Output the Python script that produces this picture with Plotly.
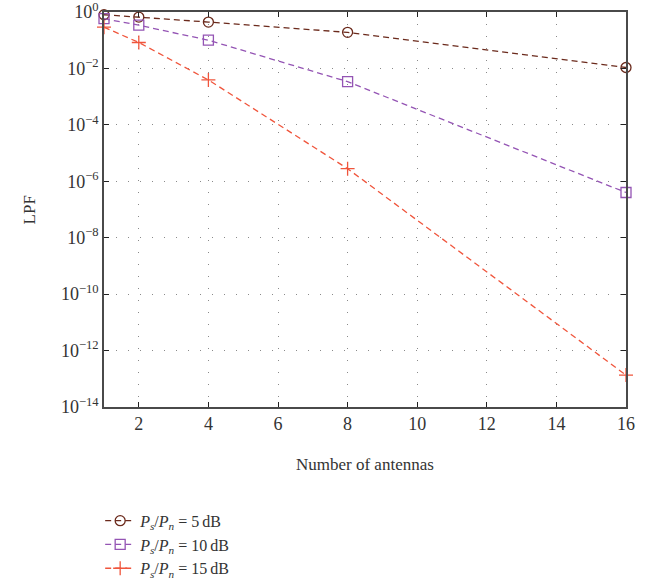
import plotly.graph_objects as go

# Number of antennas
antennas = [1, 2, 4, 8, 16]

# LPF values for each Ps/Pn setting
lpf_5db = [0.80, 0.66, 0.44, 0.19, 0.0108]
lpf_10db = [0.58, 0.34, 0.10, 0.0034, 4.0e-7]
lpf_15db = [0.29, 0.083, 0.0039, 2.8e-6, 1.35e-13]

series_names = [
    "<i>P<sub>s</sub></i>/<i>P<sub>n</sub></i> = 5\u2009dB",
    "<i>P<sub>s</sub></i>/<i>P<sub>n</sub></i> = 10\u2009dB",
    "<i>P<sub>s</sub></i>/<i>P<sub>n</sub></i> = 15\u2009dB",
]
series_colors = ["#6b2a1c", "#9454b4", "#f0553c"]
series_symbols = ["circle-open", "square-open", "cross-thin-open"]
series_values = [lpf_5db, lpf_10db, lpf_15db]

y_exponents = [0, -2, -4, -6, -8, -10, -12, -14]
y_tickvals = [10.0 ** e for e in y_exponents]
y_ticktext = ["10<sup>%s</sup>" % (str(e).replace("-", "\u2212")) for e in y_exponents]
x_tickvals = [2, 4, 6, 8, 10, 12, 14, 16]

x_title = "Number of antennas"
y_title = "LPF"

font_family = "Liberation Serif, DejaVu Serif, serif"
text_color = "#333333"

fig = go.Figure()
for name, vals, color, symbol in zip(series_names, series_values, series_colors, series_symbols):
    fig.add_trace(go.Scatter(
        x=antennas,
        y=vals,
        mode="lines+markers",
        name=name,
        line=dict(color=color, width=1.3, dash="6px,4px"),
        marker=dict(symbol=symbol, size=10, color=color, line=dict(color=color, width=1.3)),
        cliponaxis=False,
    ))

axis_color = "#4a4a4a"
common_axis = dict(
    ticks="inside",
    ticklen=5,
    tickcolor="#222222",
    showline=True,
    linecolor=axis_color,
    linewidth=1.6,
    mirror="ticks",
    showgrid=True,
    gridcolor="#8a8a8a",
    griddash="1px,11px",
    gridwidth=1.2,
    zeroline=False,
    automargin=False,
    ticklabeloverflow="allow",
    tickfont=dict(family=font_family, size=18, color=text_color),
)

fig.update_layout(
    width=659,
    height=579,
    margin=dict(l=104, r=33, t=12, b=172, autoexpand=False),
    paper_bgcolor="white",
    plot_bgcolor="white",
    font=dict(family=font_family, size=16, color=text_color),
    showlegend=True,
    legend=dict(
        xref="container", yref="container",
        x=0.152, xanchor="left",
        y=0.13, yanchor="top",
        bgcolor="rgba(0,0,0,0)",
        font=dict(family=font_family, size=16, color=text_color),
        tracegroupgap=0,
        itemwidth=30,
    ),
    xaxis=dict(range=[1, 16], tickvals=x_tickvals, **common_axis),
    yaxis=dict(type="log", range=[-14, 0], tickvals=y_tickvals,
               ticktext=y_ticktext, **common_axis),
    annotations=[
        dict(text=x_title, xref="paper", yref="paper", x=0.5, y=-0.146,
             xanchor="center", yanchor="middle", showarrow=False,
             font=dict(family=font_family, size=17, color=text_color)),
        dict(text=y_title, xref="paper", yref="paper", x=-0.142, y=0.5,
             xanchor="center", yanchor="middle", showarrow=False, textangle=-90,
             font=dict(family=font_family, size=17, color=text_color)),
    ],
)

fig.write_html("out.html")
